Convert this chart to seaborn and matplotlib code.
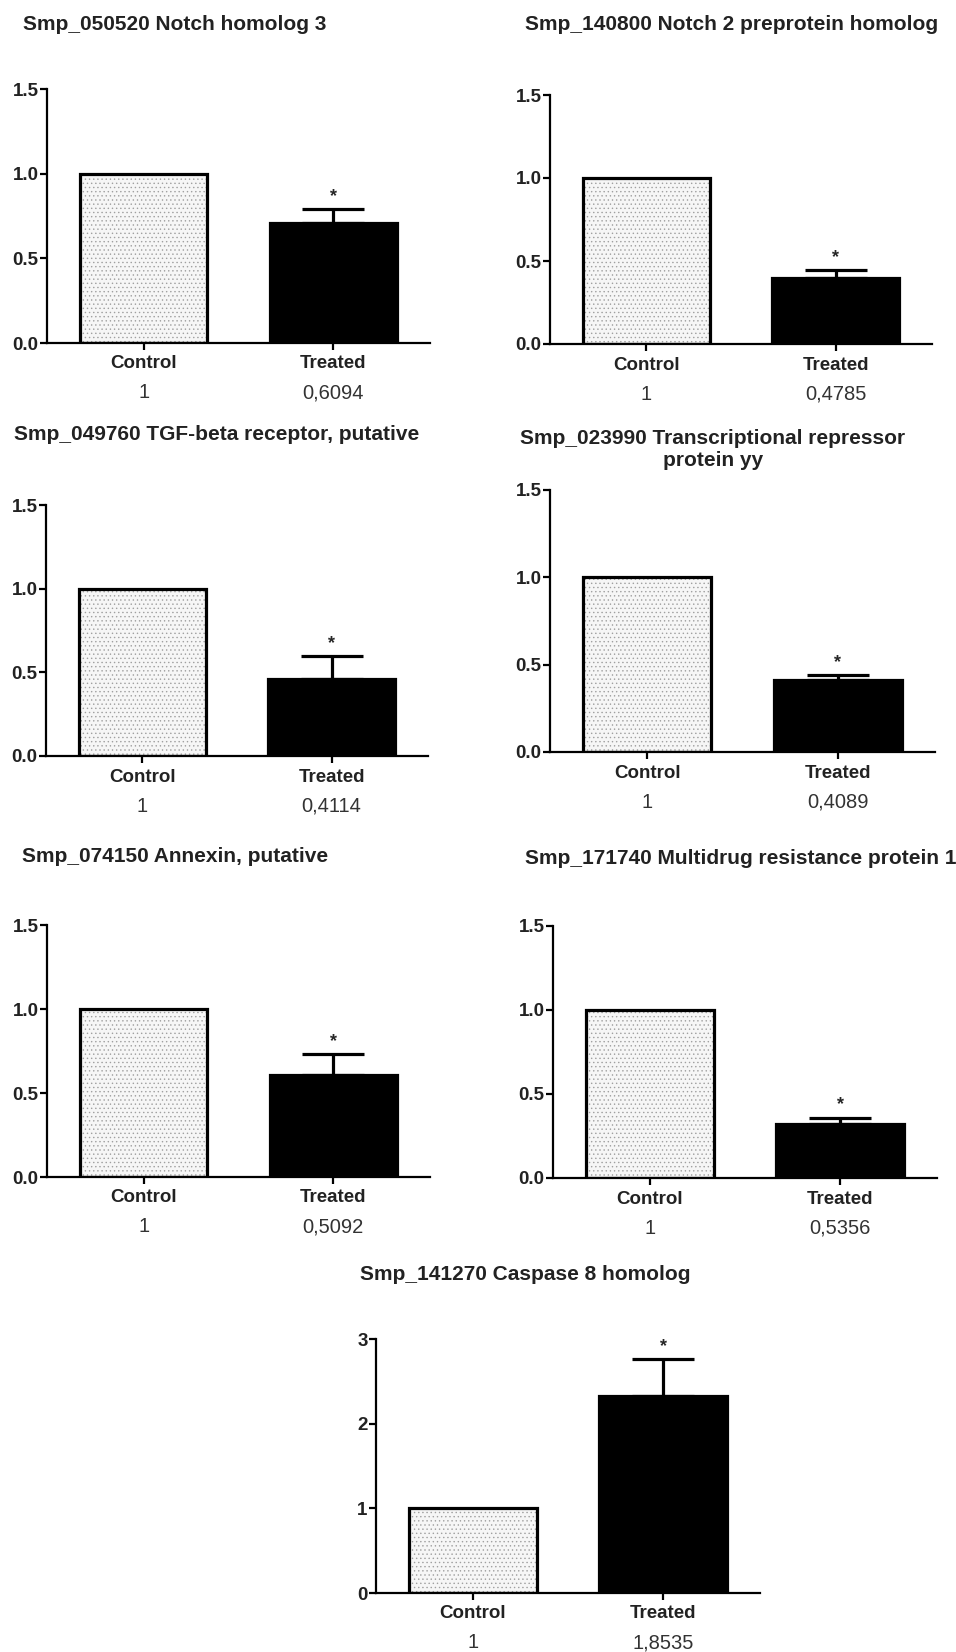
import matplotlib
matplotlib.use("Agg")
import matplotlib.pyplot as plt
import matplotlib.colors as mcolors
import seaborn as sns
import pandas as pd

# data
genes = [
    "Smp_050520 Notch homolog 3",
    "Smp_140800 Notch 2 preprotein homolog",
    "Smp_049760 TGF-beta receptor, putative",
    "Smp_023990 Transcriptional repressor\nprotein yy",
    "Smp_074150 Annexin, putative",
    "Smp_171740 Multidrug resistance protein 1",
    "Smp_141270 Caspase 8 homolog",
]
groups = ["Control", "Treated"]
control_vals = [1, 1, 1, 1, 1, 1, 1]
treated_vals = [0.71, 0.40, 0.46, 0.41, 0.61, 0.32, 2.33]
treated_err = [0.08, 0.045, 0.135, 0.03, 0.12, 0.04, 0.43]
control_labels = ["1", "1", "1", "1", "1", "1", "1"]
treated_labels = ["0,6094", "0,4785", "0,4114", "0,4089", "0,5092", "0,5356", "1,8535"]
y_max = [1.5, 1.5, 1.5, 1.5, 1.5, 1.5, 3]
y_step = [0.5, 0.5, 0.5, 0.5, 0.5, 0.5, 1]

# layout in pixels: axes (left, right, top, bottom) and title (x, y, align)
W, H = 956, 1652
axes_px = [
    (47, 430, 89, 343),
    (550, 932, 95, 344),
    (46, 428, 505, 756),
    (550, 935, 490, 752),
    (47, 430, 925, 1177),
    (553, 937, 926, 1178),
    (376, 760, 1339, 1593),
]
title_px = [
    (23, 25, "left"),
    (525, 25, "left"),
    (14, 435, "left"),
    (713, 449, "center"),
    (22, 857, "left"),
    (525, 858, "left"),
    (360, 1275, "left"),
]

sns.set_style("ticks")
plt.rcParams["font.family"] = ["Liberation Sans", "DejaVu Sans"]
plt.rcParams["hatch.linewidth"] = 0.5

fig = plt.figure(figsize=(W / 100, H / 100), dpi=100)
fig.patch.set_facecolor("white")

for i in range(len(genes)):
    l, r, t, b = axes_px[i]
    ax = fig.add_axes([l / W, 1 - b / H, (r - l) / W, (b - t) / H])
    df = pd.DataFrame({"group": groups, "value": [control_vals[i], treated_vals[i]]})
    sns.barplot(data=df, x="group", y="value", hue="group",
                palette={"Control": "#f6f6f6", "Treated": "black"},
                width=0.67, edgecolor="black", linewidth=2.3,
                errorbar=None, legend=False, ax=ax)
    # stippled control bar
    p = ax.patches[0]
    p.set_hatch("....")
    p._hatch_color = mcolors.to_rgba("#a0a0a0")
    # one-sided error bar on treated
    ax.errorbar(1, treated_vals[i], yerr=[[0], [treated_err[i]]], fmt="none",
                ecolor="black", elinewidth=2.3, capsize=22, capthick=2.3, zorder=3)
    ax.annotate("*", xy=(1, treated_vals[i] + treated_err[i]), xytext=(0, 9),
                textcoords="offset points", ha="center", va="center",
                fontsize=13, fontweight="bold")

    ax.set_xlim(-0.51, 1.51)
    ax.set_ylim(0, y_max[i])
    ticks = [k * y_step[i] for k in range(int(round(y_max[i] / y_step[i])) + 1)]
    ax.set_yticks(ticks)
    if y_step[i] < 1:
        ax.set_yticklabels([f"{v:.1f}" for v in ticks])
    else:
        ax.set_yticklabels([f"{v:.0f}" for v in ticks])
    ax.set_xlabel("")
    ax.set_ylabel("")
    sns.despine(ax=ax)
    for s in ["left", "bottom"]:
        ax.spines[s].set_linewidth(1.6)
        ax.spines[s].set_color("black")
    ax.tick_params(axis="both", direction="out", length=5, width=1.6, color="black", pad=1)
    ax.tick_params(axis="x", pad=4)
    for lab in ax.get_xticklabels() + ax.get_yticklabels():
        lab.set_fontweight("bold")
        lab.set_fontsize(13.5)
        lab.set_color("#222222")

    ax.annotate(control_labels[i], xy=(0, 0), xycoords=("data", "axes fraction"),
                xytext=(0, -36), textcoords="offset points", ha="center", va="center",
                fontsize=14.5, color="#333333")
    ax.annotate(treated_labels[i], xy=(1, 0), xycoords=("data", "axes fraction"),
                xytext=(0, -36), textcoords="offset points", ha="center", va="center",
                fontsize=14.5, color="#333333")

    tx, ty, ha = title_px[i]
    fig.text(tx / W, 1 - ty / H, genes[i], ha=ha, va="center", multialignment="center",
             fontsize=15, fontweight="bold", color="#222222")

fig.savefig("out.png", dpi=100, facecolor="white")
